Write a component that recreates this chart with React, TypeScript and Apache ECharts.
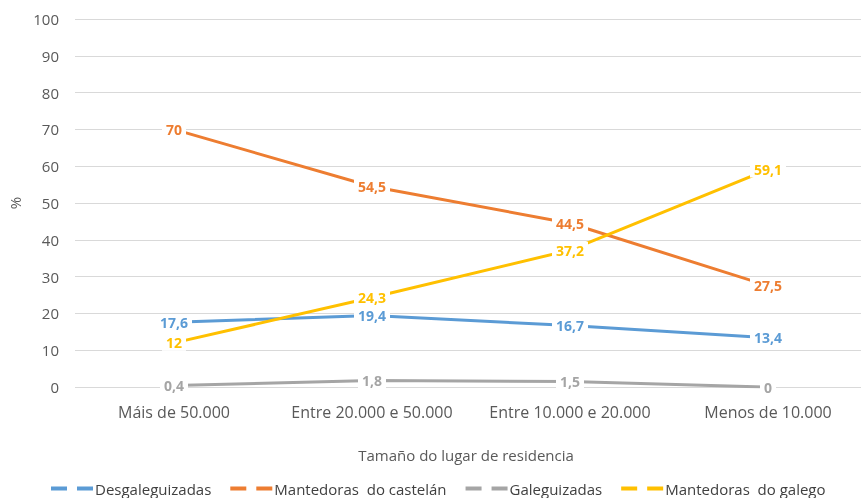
import React, { useEffect, useRef } from "react";
import * as echarts from "echarts";

const categories = ["Máis de 50.000", "Entre 20.000 e 50.000", "Entre 10.000 e 20.000", "Menos de 10.000"];
const seriesNames = ["Desgaleguizadas", "Mantedoras  do castelán", "Galeguizadas", "Mantedoras  do galego"];
const desgaleguizadas = [17.6, 19.4, 16.7, 13.4];
const mantedorasCastelan = [70, 54.5, 44.5, 27.5];
const galeguizadas = [0.4, 1.8, 1.5, 0];
const mantedorasGalego = [12, 24.3, 37.2, 59.1];
const colors = ["#5B9BD5", "#ED7D31", "#A5A5A5", "#FFC000"];
const yTicks = { min: 0, max: 100, interval: 10 };

const FONT = "'Open Sans', 'Noto Sans', sans-serif";

export default function App() {
  const ref = useRef<HTMLDivElement>(null);
  useEffect(() => {
    if (!ref.current) return;
    const chart = echarts.init(ref.current, null, { renderer: "svg" });
    const data = [desgaleguizadas, mantedorasCastelan, galeguizadas, mantedorasGalego];
    chart.setOption({
      animation: false,
      textStyle: { fontFamily: FONT },
      grid: { left: 75, top: 19, right: -6, height: 368, containLabel: false, outerBoundsMode: "none" },
      legend: {
        top: 476,
        left: 46,
        itemWidth: 42,
        itemHeight: 4,
        itemGap: 19,
        icon: "path://M0,0h16v4h-16z M26,0h16v4h-16z",
        textStyle: { fontFamily: FONT, fontSize: 15, color: "#404040", padding: [0, 0, 0, -3] },
        data: seriesNames,
      },
      xAxis: {
        type: "category",
        data: categories,
        boundaryGap: true,
        name: "Tamaño do lugar de residencia",
        nameLocation: "middle",
        nameGap: 60,
        nameTextStyle: { fontFamily: FONT, fontSize: 15, color: "#595959", padding: [0, 10, 0, 0] },
        axisLine: { show: false },
        axisTick: { show: false },
        axisLabel: { fontFamily: FONT, fontSize: 16, color: "#595959", margin: 17, interval: 0 },
      },
      yAxis: {
        type: "value",
        min: yTicks.min,
        max: yTicks.max,
        interval: yTicks.interval,
        name: "%",
        nameLocation: "middle",
        nameGap: 53,
        nameRotate: 90,
        nameTextStyle: { fontFamily: FONT, fontSize: 15, color: "#595959" },
        axisLine: { show: false },
        axisTick: { show: false },
        axisLabel: { fontFamily: FONT, fontSize: 15, color: "#595959", margin: 16 },
        splitLine: { lineStyle: { color: "#D9D9D9", width: 1.2 } },
      },
      series: seriesNames.map((name, i) => ({
        name,
        type: "line",
        data: data[i],
        color: colors[i],
        symbol: "circle",
        symbolSize: 0,
        lineStyle: { width: 3, color: colors[i] },
        label: {
          show: true,
          position: "inside",
          fontFamily: FONT,
          fontSize: 14,
          fontWeight: "bold",
          color: colors[i],
          backgroundColor: "#ffffff",
          padding: [1, 4],
          formatter: (p: any) => String(p.value).replace(".", ","),
        },
        z: 2,
      })),
    });
    return () => chart.dispose();
  }, []);
  return <div ref={ref} style={{ position: "fixed", left: 0, top: 0, width: 861, height: 498 }} />;
}
